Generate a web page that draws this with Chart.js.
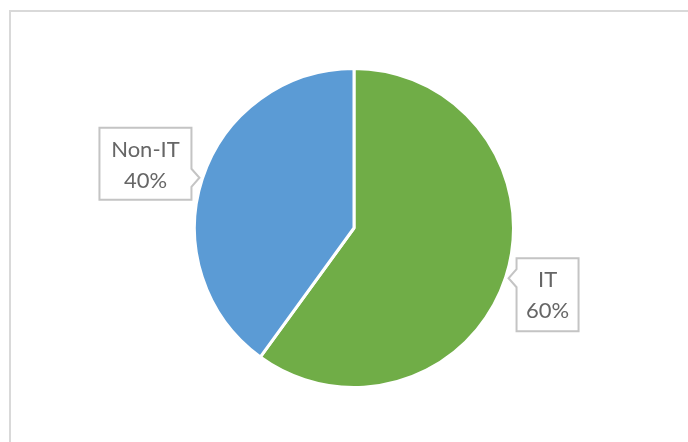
<!DOCTYPE html>
<html>
<head>
<meta charset="utf-8">
<script src="https://cdn.jsdelivr.net/npm/chart.js@4/dist/chart.umd.min.js"></script>
<style>
  html, body { margin: 0; padding: 0; background: #fff; overflow: hidden; }
  #wrap { position: relative; width: 688px; height: 442px; }
  #frame { position: absolute; left: 9px; top: 10px; width: 720px; height: 480px; border-top: 2px solid #d9d9d9; border-left: 2px solid #d9d9d9; box-sizing: border-box; }
  canvas { position: absolute; left: 0; top: 0; }
</style>
</head>
<body>
<div id="wrap">
  <div id="frame"></div>
  <canvas id="myChart" width="688" height="442"></canvas>
</div>
<script>
const labels = ["IT", "Non-IT"];
const values = [60, 40];
const colors = ["#70AD47", "#5B9BD5"];

// callout boxes next to each slice (box size and offset from the slice edge)
const callouts = [
  { w: 62, h: 73, side: 'right', gap: 8, up: 20 },
  { w: 92, h: 72, side: 'left', gap: 8, up: 50 }
];

const calloutPlugin = {
  id: 'callouts',
  afterDatasetsDraw(chart) {
    const ctx = chart.ctx;
    const meta = chart.getDatasetMeta(0);
    const total = values.reduce((a, b) => a + b, 0);
    meta.data.forEach((arc, i) => {
      const p = arc.getProps(['x', 'y', 'startAngle', 'endAngle', 'outerRadius'], true);
      const mid = (p.startAngle + p.endAngle) / 2;
      const r = p.outerRadius + 3;
      const tx = p.x + Math.cos(mid) * r;
      const ty = p.y + Math.sin(mid) * r;
      const c = callouts[i];
      let bx, by = ty - c.up;
      if (c.side === 'right') bx = tx + c.gap; else bx = tx - c.gap - c.w;
      const py = ty - by; // pointer height inside box
      ctx.save();
      ctx.beginPath();
      if (c.side === 'right') {
        ctx.moveTo(bx, by);
        ctx.lineTo(bx + c.w, by);
        ctx.lineTo(bx + c.w, by + c.h);
        ctx.lineTo(bx, by + c.h);
        ctx.lineTo(bx, by + py + 9);
        ctx.lineTo(tx, ty);
        ctx.lineTo(bx, by + py - 9);
        ctx.closePath();
      } else {
        ctx.moveTo(bx, by);
        ctx.lineTo(bx + c.w, by);
        ctx.lineTo(bx + c.w, by + py - 9);
        ctx.lineTo(tx, ty);
        ctx.lineTo(bx + c.w, by + py + 9);
        ctx.lineTo(bx + c.w, by + c.h);
        ctx.lineTo(bx, by + c.h);
        ctx.closePath();
      }
      ctx.fillStyle = '#ffffff';
      ctx.fill();
      ctx.lineWidth = 2;
      ctx.strokeStyle = '#c4c4c4';
      ctx.stroke();
      ctx.fillStyle = '#666666';
      ctx.font = '22px Lato';
      ctx.textAlign = 'center';
      ctx.textBaseline = 'alphabetic';
      const cx = bx + c.w / 2;
      const pct = Math.round(values[i] / total * 100) + '%';
      ctx.fillText(labels[i], cx, by + 29);
      ctx.fillText(pct, cx, by + 60);
      ctx.restore();
    });
  }
};

const config = {
  type: 'pie',
  data: {
    labels: labels,
    datasets: [{
      data: values,
      backgroundColor: colors,
      borderColor: '#ffffff',
      borderWidth: 3
    }]
  },
  options: {
    responsive: false,
    animation: false,
    layout: { padding: { left: 193, right: 173, top: 67, bottom: 53 } },
    plugins: {
      legend: { display: false },
      tooltip: { enabled: false }
    }
  },
  plugins: [calloutPlugin]
};

const myChart = new Chart(document.getElementById('myChart'), config);
</script>
</body>
</html>
